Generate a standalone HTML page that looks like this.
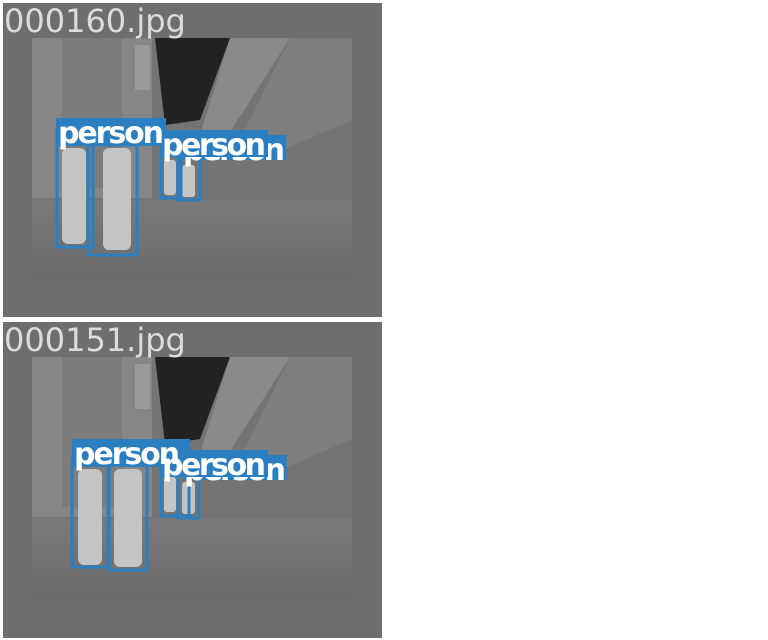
<!DOCTYPE html>
<html><head><meta charset="utf-8"><style>
body{margin:0;width:768px;height:640px;background:#fff;overflow:hidden}
svg{display:block}
text{font-family:"DejaVu Sans","Liberation Sans",sans-serif}
</style></head><body>
<svg width="768" height="640">
<defs>
<linearGradient id="fl" x1="0" y1="0" x2="0" y2="1"><stop offset="0" stop-color="#7a7a7a"/><stop offset="1" stop-color="#6a6a6a"/></linearGradient>
<g id="scene">
<rect x="32" y="38" width="320" height="243" fill="#747474"/>
<rect x="32" y="38" width="120" height="160" fill="#868686"/>
<rect x="62" y="38" width="60" height="150" fill="#7c7c7c"/>
<rect x="135" y="45" width="15" height="45" fill="#9a9a9a"/>
<polygon points="155,38 230,38 200,120 165,125" fill="#222"/>
<polygon points="230,38 290,38 225,140 200,135" fill="#8a8a8a"/>
<polygon points="290,38 352,38 352,120 260,160 230,160" fill="#7e7e7e"/>
<rect x="32" y="200" width="320" height="81" fill="url(#fl)"/>
</g>
</defs>
<g>
<rect x="3" y="3" width="379" height="314" fill="#6e6e6e"/>
<use href="#scene"/>
<text x="4" y="32" font-size="32" fill="#dcdcdc">000160.jpg</text>
<g fill="#c4c4c4">
<rect x="62" y="148" width="24" height="96" rx="6"/><rect x="103" y="148" width="28" height="102" rx="6"/>
<rect x="164" y="160" width="12" height="35" rx="3"/><rect x="182" y="165" width="13" height="32" rx="3"/>
</g>
<g fill="none" stroke="#2b7fc1" stroke-width="3">
<rect x="57" y="130" width="36" height="117"/><rect x="88" y="145" width="49" height="110"/>
<rect x="161" y="140" width="20" height="58"/><rect x="178" y="155" width="22" height="45"/>
</g>
<rect x="183" y="135" width="103" height="25" fill="#2b7fc1"/>
<text x="183" y="160" font-size="30" font-weight="bold" fill="#fff" textLength="102">person</text>
<rect x="56" y="118" width="110" height="28" fill="#2b7fc1"/>
<rect x="160" y="130" width="108" height="27" fill="#2b7fc1"/>
<text x="58" y="143" font-size="30" font-weight="bold" fill="#fff" textLength="106">person</text>
<text x="162" y="155" font-size="30" font-weight="bold" fill="#fff" textLength="104">person</text>
</g>
<g transform="translate(0,319)">
<rect x="3" y="3" width="379" height="316" fill="#6e6e6e"/>
<use href="#scene"/>
<text x="4" y="32" font-size="32" fill="#dcdcdc">000151.jpg</text>
<g fill="#c4c4c4">
<rect x="78" y="150" width="24" height="96" rx="6"/><rect x="114" y="150" width="28" height="98" rx="6"/>
<rect x="164" y="158" width="12" height="35" rx="3"/><rect x="182" y="163" width="13" height="32" rx="3"/>
</g>
<g fill="none" stroke="#2b7fc1" stroke-width="3">
<rect x="72" y="140" width="36" height="108"/><rect x="109" y="145" width="38" height="106"/>
<rect x="161" y="140" width="28" height="57"/><rect x="178" y="150" width="21" height="49"/>
</g>
<rect x="184" y="136" width="103" height="25" fill="#2b7fc1"/>
<text x="184" y="161" font-size="30" font-weight="bold" fill="#fff" textLength="102">person</text>
<rect x="72" y="120" width="118" height="28" fill="#2b7fc1"/>
<rect x="160" y="131" width="108" height="27" fill="#2b7fc1"/>
<text x="74" y="145" font-size="30" font-weight="bold" fill="#fff" textLength="106">person</text>
<text x="162" y="156" font-size="30" font-weight="bold" fill="#fff" textLength="104">person</text>
</g>
</svg>
</body></html>
